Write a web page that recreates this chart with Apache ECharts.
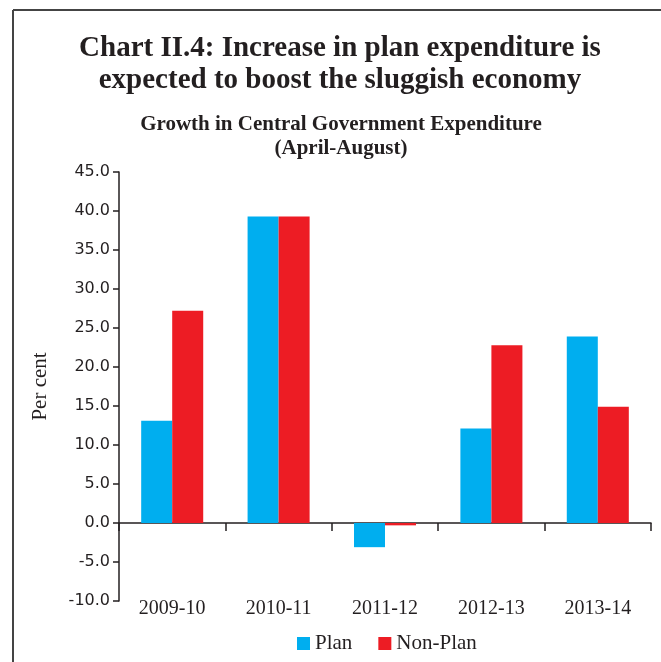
<!DOCTYPE html>
<html>
<head>
<meta charset="utf-8">
<script src="https://cdn.jsdelivr.net/npm/echarts@6/dist/echarts.min.js"></script>
<style>
  html, body { margin: 0; padding: 0; background: #fff; }
  #chart { width: 661px; height: 662px; }
</style>
</head>
<body>
<div id="chart"></div>
<script>
var categories = ['2009-10', '2010-11', '2011-12', '2012-13', '2013-14'];
var planData = [13.1, 39.3, -3.1, 12.1, 23.9];
var nonPlanData = [27.2, 39.3, -0.3, 22.8, 14.9];
var yTicks = { min: -10, max: 45, interval: 5 };

var serif = '"Liberation Serif", "DejaVu Serif", serif';
var ink = '#231f20';

var chart = echarts.init(document.getElementById('chart'));
var option = {
  animation: false,
  title: [
    {
      text: 'Chart II.4: Increase in plan expenditure is\nexpected to boost the sluggish economy',
      left: 335,
      top: 28,
      textAlign: 'center',
      textStyle: { fontFamily: serif, fontSize: 29, fontWeight: 'bold', color: ink, lineHeight: 32 }
    },
    {
      text: 'Growth in Central Government Expenditure\n(April-August)',
      left: 336,
      top: 108,
      textAlign: 'center',
      textStyle: { fontFamily: serif, fontSize: 21, fontWeight: 'bold', color: ink, lineHeight: 24 }
    }
  ],
  graphic: [
    { type: 'line', shape: { x1: 13, y1: 10, x2: 661, y2: 10 }, style: { stroke: '#444', lineWidth: 2 } },
    { type: 'line', shape: { x1: 13, y1: 10, x2: 13, y2: 662 }, style: { stroke: '#444', lineWidth: 2 } }
  ],
  legend: {
    bottom: 3,
    left: 292,
    itemWidth: 13,
    itemHeight: 13,
    itemGap: 26,
    icon: 'rect',
    textStyle: { fontFamily: serif, fontSize: 21, color: ink },
    data: ['Plan', 'Non-Plan']
  },
  grid: { left: 119, right: 10, top: 172, bottom: 61 },
  xAxis: [
    {
      type: 'category',
      data: categories,
      axisLine: { onZero: true, lineStyle: { color: ink, width: 1.5 } },
      axisTick: { show: true, length: 8, lineStyle: { color: ink, width: 1.5 } },
      axisLabel: { show: false }
    },
    {
      type: 'category',
      data: categories,
      position: 'bottom',
      axisLine: { show: false, onZero: false },
      axisTick: { show: false },
      axisLabel: { fontFamily: serif, fontSize: 20, color: ink, margin: -2 }
    }
  ],
  yAxis: {
    type: 'value',
    min: yTicks.min,
    max: yTicks.max,
    interval: yTicks.interval,
    name: 'Per cent',
    nameLocation: 'middle',
    nameGap: 68,
    nameRotate: 90,
    nameTextStyle: { fontFamily: serif, fontSize: 21, color: ink },
    axisLine: { show: true, lineStyle: { color: ink, width: 1.5 } },
    axisTick: { show: true, length: 6, lineStyle: { color: ink, width: 1.5 } },
    splitLine: { show: false },
    axisLabel: {
      fontFamily: '"DejaVu Sans", sans-serif',
      fontSize: 16,
      color: ink,
      margin: 9,
      formatter: function (v) { return v.toFixed(1); }
    }
  },
  series: [
    {
      name: 'Plan',
      type: 'bar',
      data: planData,
      barGap: '0%',
      barCategoryGap: '41.7%',
      itemStyle: { color: '#00aeef' }
    },
    {
      name: 'Non-Plan',
      type: 'bar',
      data: nonPlanData,
      itemStyle: { color: '#ed1c24' }
    }
  ]
};
chart.setOption(option);
window.onresize = function () {
  chart.resize();
};
</script>
</body>
</html>
